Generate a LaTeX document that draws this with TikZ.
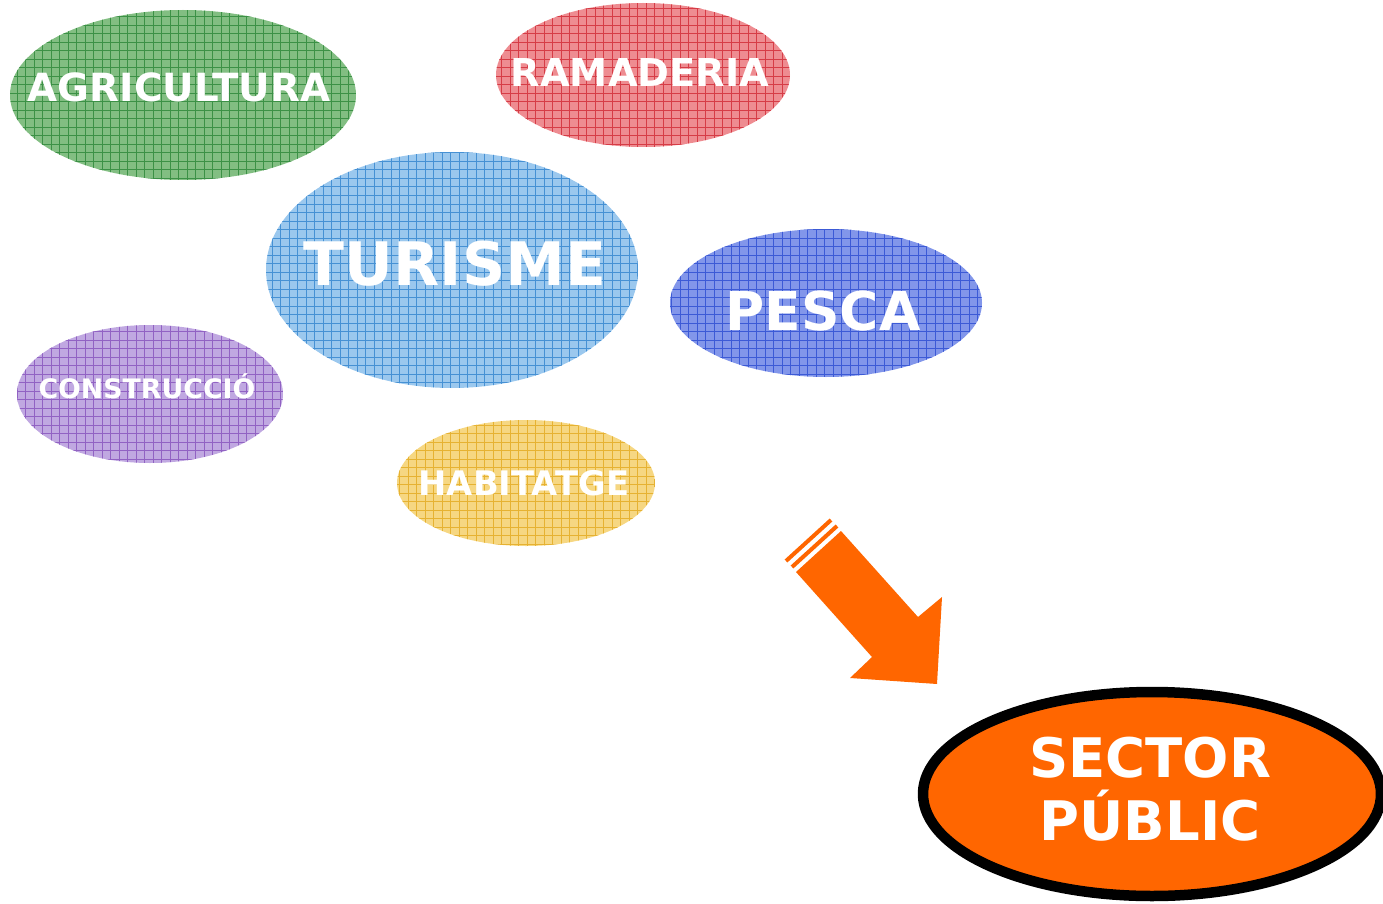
\documentclass[tikz,border=0pt]{standalone}
\usepackage{fontspec}
\setmainfont{DejaVu Sans}
\definecolor{gA}{RGB}{130,190,130}\definecolor{gL}{RGB}{60,145,70}
\definecolor{rA}{RGB}{238,140,145}\definecolor{rL}{RGB}{214,60,70}
\definecolor{bA}{RGB}{155,200,238}\definecolor{bL}{RGB}{70,145,212}
\definecolor{pA}{RGB}{130,150,234}\definecolor{pL}{RGB}{60,90,214}
\definecolor{vA}{RGB}{192,168,225}\definecolor{vL}{RGB}{145,98,195}
\definecolor{yA}{RGB}{246,215,130}\definecolor{yL}{RGB}{230,178,50}
\definecolor{orng}{RGB}{255,102,0}
\tikzset{
  lbl/.style={text=white,font=\bfseries,inner sep=0pt,align=center},
}
\newcommand{\hatchell}[6]{% cx, cy, rx, ry, fill, line
  \fill[#5] (#1,#2) ellipse[x radius=#3,y radius=#4];
  \begin{scope}
    \clip (#1,#2) ellipse[x radius=#3,y radius=#4];
    \foreach \gx in {0,8.5,...,1390}{\draw[#6,line width=1pt] (\gx,0) -- (\gx,904);}
    \foreach \gy in {0,8.5,...,910}{\draw[#6,line width=1pt] (0,\gy) -- (1383,\gy);}
  \end{scope}}
\begin{document}
\begin{tikzpicture}[x=1pt,y=-1pt]
\useasboundingbox (0,0) rectangle (1383,904);
\hatchell{183}{95}{173}{85}{gA}{gL}
\hatchell{643}{75}{147}{72}{rA}{rL}
\hatchell{452}{270}{186}{118}{bA}{bL}
\hatchell{826}{303}{156}{74}{pA}{pL}
\hatchell{150}{394}{133}{69}{vA}{vL}
\hatchell{526}{483}{129}{63}{yA}{yL}
\node[lbl,font=\bfseries\fontsize{38.8}{40}\selectfont] (agr) at (179,87) {AGRICULTURA};
\node[lbl,font=\bfseries\fontsize{38.4}{40}\selectfont] (ram) at (640,73) {RAMADERIA};
\node[lbl,font=\bfseries\fontsize{60}{62}\selectfont] (tur) at (455,264) {TURISME};
\node[lbl,font=\bfseries\fontsize{53.5}{56}\selectfont] (pes) at (823,311) {PESCA};
\node[lbl,font=\bfseries\fontsize{26.8}{30}\selectfont] (con) at (147,386) {CONSTRUCCIÓ};
\node[lbl,font=\bfseries\fontsize{33.8}{36}\selectfont] (hab) at (524,483) {HABITATGE};
% arrow
\fill[orng] (796,572) -- (841,531) -- (918,617) -- (942,597) -- (937,684) -- (850,678) -- (872,657) -- cycle;
\draw[orng,line width=4pt] (792,567) -- (837,526);
\draw[orng,line width=4pt] (786,561) -- (831,520);
% sector public
\draw[line width=10.5pt,fill=orng] (1152,794) ellipse[x radius=229,y radius=102];
\node[lbl,font=\bfseries\fontsize{54.5}{63}\selectfont] (sp) at (1150,789) {SECTOR\\PÚBLIC};
\end{tikzpicture}
\end{document}
